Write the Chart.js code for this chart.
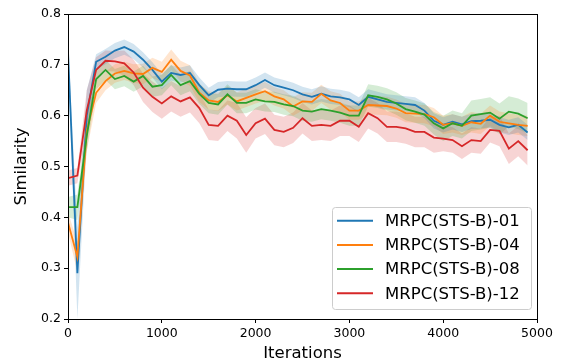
<!DOCTYPE html>
<html>
<head>
<meta charset="utf-8">
<script src="https://cdn.jsdelivr.net/npm/chart.js@4/dist/chart.umd.min.js"></script>
<style>
  html, body { margin: 0; padding: 0; background: #fff; }
  #wrap { width: 562px; height: 364px; }
</style>
</head>
<body>
<div id="wrap"><canvas id="grafico"></canvas></div>
<script>
// iteraciones (cada 100)
const iteraciones = [0,100,200,300,400,500,600,700,800,900,1000,1100,1200,1300,1400,1500,1600,1700,1800,1900,
  2000,2100,2200,2300,2400,2500,2600,2700,2800,2900,3000,3100,3200,3300,3400,3500,3600,3700,3800,3900,
  4000,4100,4200,4300,4400,4500,4600,4700,4800,4900];

const etiquetas = ["MRPC(STS-B)-01", "MRPC(STS-B)-04", "MRPC(STS-B)-08", "MRPC(STS-B)-12"];
const colores = ["#1f77b4", "#ff7f0e", "#2ca02c", "#d62728"];
const bandas = ["rgba(31,119,180,0.2)", "rgba(255,127,14,0.2)", "rgba(44,160,44,0.2)", "rgba(214,39,40,0.2)"];

const sim01 = [0.726,0.29,0.6,0.706,0.716,0.728,0.735,0.726,0.71,0.69,0.667,0.684,0.68,0.684,0.66,0.64,0.651,0.653,0.652,0.652,
  0.66,0.67,0.66,0.655,0.65,0.642,0.637,0.643,0.638,0.636,0.632,0.621,0.637,0.632,0.627,0.625,0.623,0.621,0.61,0.59,
  0.582,0.588,0.583,0.589,0.59,0.592,0.582,0.577,0.582,0.567];
const sim04 = [0.39,0.322,0.57,0.645,0.668,0.683,0.688,0.683,0.682,0.694,0.686,0.71,0.688,0.679,0.645,0.63,0.627,0.64,0.628,0.635,
  0.642,0.648,0.638,0.632,0.618,0.628,0.627,0.643,0.63,0.625,0.61,0.61,0.621,0.62,0.619,0.614,0.605,0.604,0.603,0.597,
  0.582,0.585,0.58,0.587,0.584,0.6,0.588,0.585,0.582,0.58];
const sim08 = [0.42,0.42,0.56,0.672,0.69,0.672,0.678,0.667,0.678,0.657,0.66,0.68,0.66,0.668,0.643,0.625,0.622,0.642,0.625,0.625,
  0.632,0.628,0.627,0.622,0.619,0.61,0.608,0.613,0.61,0.606,0.6,0.6,0.64,0.637,0.632,0.624,0.613,0.608,0.602,0.585,
  0.575,0.585,0.58,0.6,0.603,0.606,0.594,0.608,0.604,0.595];
const sim12 = [0.477,0.482,0.61,0.69,0.708,0.707,0.703,0.685,0.655,0.637,0.624,0.638,0.628,0.636,0.615,0.582,0.58,0.6,0.59,0.562,
  0.585,0.594,0.572,0.568,0.576,0.595,0.58,0.582,0.58,0.59,0.59,0.578,0.605,0.595,0.578,0.578,0.575,0.568,0.568,0.557,
  0.555,0.552,0.54,0.552,0.55,0.572,0.57,0.535,0.55,0.532];

// desviacion (ancho de la banda)
const desv01 = [0.02,0.09,0.05,0.015,0.015,0.015,0.015,0.015,0.015,0.015,0.015,0.015,0.015,0.015,0.015,0.015,0.015,0.015,0.015,0.015,
  0.015,0.015,0.015,0.015,0.015,0.015,0.015,0.015,0.015,0.015,0.015,0.015,0.015,0.015,0.015,0.015,0.015,0.015,0.015,0.015,
  0.015,0.015,0.015,0.015,0.015,0.015,0.015,0.015,0.015,0.015];
const desv04 = [0.02,0.03,0.04,0.02,0.018,0.018,0.018,0.018,0.02,0.02,0.02,0.02,0.02,0.02,0.018,0.018,0.018,0.018,0.018,0.018,
  0.018,0.018,0.018,0.018,0.018,0.018,0.018,0.018,0.018,0.018,0.018,0.018,0.018,0.018,0.018,0.018,0.018,0.018,0.018,0.018,
  0.018,0.018,0.018,0.02,0.02,0.02,0.02,0.02,0.02,0.02];
const desv08 = [0.02,0.025,0.03,0.02,0.02,0.02,0.02,0.02,0.02,0.02,0.02,0.02,0.02,0.02,0.02,0.02,0.02,0.02,0.02,0.02,
  0.02,0.02,0.02,0.02,0.02,0.02,0.02,0.02,0.02,0.02,0.02,0.02,0.022,0.022,0.022,0.022,0.022,0.022,0.022,0.022,
  0.025,0.025,0.025,0.03,0.03,0.03,0.03,0.03,0.03,0.03];
const desv12 = [0.015,0.015,0.04,0.025,0.02,0.02,0.025,0.025,0.028,0.03,0.03,0.03,0.03,0.03,0.03,0.03,0.03,0.03,0.035,0.035,
  0.03,0.03,0.03,0.03,0.03,0.03,0.03,0.03,0.03,0.03,0.03,0.03,0.03,0.03,0.03,0.03,0.03,0.03,0.03,0.03,
  0.025,0.025,0.025,0.025,0.025,0.025,0.03,0.03,0.03,0.03];

const series = [sim01, sim04, sim08, sim12];
const desvios = [desv01, desv04, desv08, desv12];

const pares = arr => arr.map((y, i) => ({ x: iteraciones[i], y: y }));

const datasets = [];
series.forEach((s, k) => {
  datasets.push({
    data: pares(s.map((v, i) => v - desvios[k][i])),
    borderWidth: 0, pointRadius: 0, fill: false, order: 20 + k
  });
  datasets.push({
    data: pares(s.map((v, i) => v + desvios[k][i])),
    borderWidth: 0, pointRadius: 0, fill: "-1", backgroundColor: bandas[k], order: 20 + k
  });
});
series.forEach((s, k) => {
  datasets.push({
    label: etiquetas[k],
    data: pares(s),
    borderColor: colores[k],
    borderWidth: 1.8,
    pointRadius: 0,
    fill: false,
    order: 3 - k
  });
});

const marco = {
  id: "marco",
  afterDraw(chart) {
    const { ctx, chartArea: a } = chart;
    ctx.save();
    ctx.strokeStyle = "#000";
    ctx.lineWidth = 1;
    ctx.strokeRect(a.left + 0.5, a.top + 0.5, a.right - a.left, a.bottom - a.top);

    // leyenda dentro del grafico
    const x0 = 332, y0 = 207, w = 199, h = 102;
    ctx.fillStyle = "rgba(255,255,255,0.8)";
    ctx.strokeStyle = "#cccccc";
    ctx.beginPath();
    ctx.roundRect(x0 + 0.5, y0 + 0.5, w, h, 3);
    ctx.fill();
    ctx.stroke();
    ctx.font = "16.5px 'DejaVu Sans'";
    ctx.textBaseline = "middle";
    ctx.textAlign = "left";
    etiquetas.forEach((t, k) => {
      const y = 220.7 + k * 24.2;
      ctx.strokeStyle = colores[k];
      ctx.lineWidth = 2;
      ctx.beginPath();
      ctx.moveTo(337, y);
      ctx.lineTo(373, y);
      ctx.stroke();
      ctx.fillStyle = "#000";
      ctx.fillText(t, 385, y + 1);
    });
    ctx.restore();
  }
};

new Chart(document.getElementById("grafico"), {
  type: "line",
  data: { datasets: datasets },
  options: {
    responsive: true,
    maintainAspectRatio: false,
    animation: false,
    layout: { padding: { left: 0, top: 14, right: 25, bottom: 0 } },
    plugins: { legend: { display: false }, tooltip: { enabled: false } },
    scales: {
      x: {
        type: "linear",
        min: 0, max: 5000,
        afterFit: s => { s.height = 45; },
        ticks: { stepSize: 1000, color: "#000", font: { family: "DejaVu Sans", size: 12.5 }, padding: 3, maxRotation: 0,
          callback: v => String(v) },
        grid: { display: true, drawOnChartArea: false, drawTicks: true, tickLength: 4, color: "#000" },
        border: { display: true, color: "#000", width: 1 },
        title: { display: true, text: "Iterations", color: "#000", font: { family: "DejaVu Sans", size: 16.5 }, padding: { top: 0, bottom: 0 } }
      },
      y: {
        min: 0.2, max: 0.8,
        afterFit: s => { s.width = 68; },
        ticks: { stepSize: 0.1, color: "#000", font: { family: "DejaVu Sans", size: 12.5 }, padding: 3,
          callback: v => v.toFixed(1) },
        grid: { display: true, drawOnChartArea: false, drawTicks: true, tickLength: 4, color: "#000" },
        border: { display: true, color: "#000", width: 1 },
        title: { display: true, text: "Similarity", color: "#000", font: { family: "DejaVu Sans", size: 16.5 }, padding: { top: 12, bottom: 0 } }
      }
    }
  },
  plugins: [marco]
});
</script>
</body>
</html>
